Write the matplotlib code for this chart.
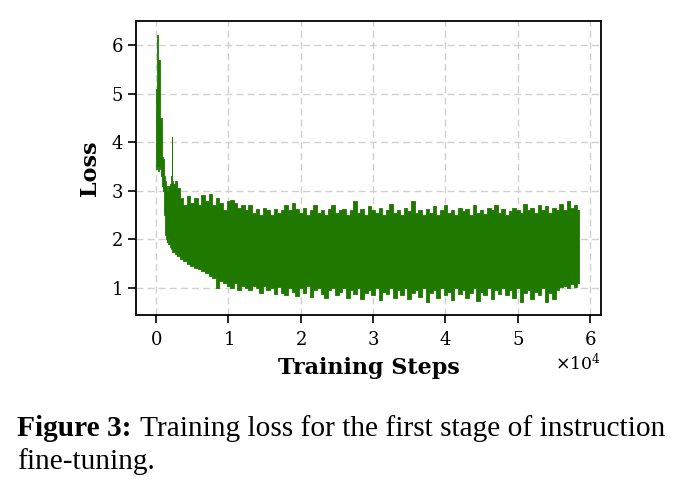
import matplotlib
matplotlib.use("Agg")
import matplotlib.pyplot as plt

# loss envelope (steps, top of band, bottom of band)
early_steps = [0, 100, 200, 300, 400, 500, 600, 700, 800, 900, 1000, 1100,
               1200, 1300, 1400, 1500, 1600, 1800, 2000, 2100, 2200, 2300,
               2500, 2750, 3000]
early_hi = [4.6, 5.1, 6.2, 5.7, 5.2, 5.7, 4.5, 4.5, 4.4, 3.7, 3.65, 3.6,
            3.3, 3.2, 3.1, 3.0, 3.0, 3.1, 3.15, 3.3, 4.1, 3.2,
            3.15, 3.2, 3.05]
early_lo = [3.5, 3.45, 3.5, 3.4, 3.4, 3.5, 3.45, 3.3, 3.2, 3.1, 3.0, 2.9,
            2.5, 2.1, 2.0, 1.95, 2.0, 1.9, 1.85, 1.8, 1.8, 1.75,
            1.75, 1.7, 1.65]

late_steps = list(range(3500, 59000, 500))
late_hi = [2.85, 2.7, 2.9, 2.75, 2.85, 2.7, 2.92, 2.8, 2.93, 2.7,
           2.85, 2.75, 2.6, 2.8, 2.82, 2.75, 2.65, 2.7, 2.6, 2.7,
           2.55, 2.62, 2.5, 2.65, 2.6, 2.5, 2.62, 2.55, 2.6, 2.7,
           2.6, 2.75, 2.62, 2.55, 2.65, 2.5, 2.6, 2.7, 2.55, 2.6,
           2.5, 2.62, 2.7, 2.55, 2.6, 2.62, 2.5, 2.6, 2.8, 2.55,
           2.62, 2.5, 2.68, 2.6, 2.55, 2.65, 2.5, 2.6, 2.72, 2.55,
           2.6, 2.5, 2.65, 2.58, 2.78, 2.55, 2.6, 2.5, 2.62, 2.55,
           2.68, 2.5, 2.6, 2.7, 2.55, 2.6, 2.5, 2.65, 2.58, 2.62,
           2.5, 2.7, 2.55, 2.6, 2.52, 2.65, 2.6, 2.7, 2.55, 2.62,
           2.5, 2.58, 2.65, 2.6, 2.55, 2.72, 2.6, 2.65, 2.55, 2.7,
           2.6, 2.68, 2.55, 2.65, 2.6, 2.72, 2.6, 2.8, 2.65, 2.7, 2.6]
late_lo = [1.6, 1.55, 1.5, 1.45, 1.42, 1.4, 1.35, 1.3, 1.25, 1.2,
           1.0, 1.15, 1.1, 1.05, 1.0, 1.1, 0.95, 1.05, 1.0, 0.95,
           1.05, 1.0, 0.9, 1.05, 0.95, 1.0, 0.88, 1.02, 0.9, 0.85,
           1.0, 0.92, 0.83, 1.0, 0.9, 1.05, 0.82, 0.95, 1.0, 0.88,
           0.8, 0.95, 1.0, 0.85, 0.92, 1.0, 0.8, 0.95, 0.88, 1.0,
           0.78, 0.9, 0.95, 0.85, 1.0, 0.75, 0.92, 0.88, 1.0, 0.8,
           0.95, 0.85, 1.0, 0.78, 0.9, 0.95, 0.82, 1.0, 0.72, 0.9,
           0.95, 0.8, 1.0, 0.85, 0.92, 0.76, 1.0, 0.88, 0.95, 0.8,
           0.9, 1.0, 0.74, 0.92, 0.85, 1.0, 0.78, 0.95, 0.88, 1.0,
           0.85, 0.95, 0.8, 1.0, 0.72, 0.9, 0.95, 0.78, 0.92, 0.85,
           1.0, 0.72, 0.9, 0.78, 0.95, 1.02, 1.05, 1.0, 1.08, 1.02, 1.1]

steps = early_steps + late_steps
hi = early_hi + late_hi
lo = early_lo + late_lo

green = "#1f7800"
serif = "Liberation Serif"

plt.rcParams["font.family"] = "DejaVu Serif"
fig = plt.figure(figsize=(6.86, 4.94), dpi=100)
ax = fig.add_axes([0.198, 0.362, 0.678, 0.595])

ax.fill_between(steps, lo, hi, step="mid", color=green, linewidth=0.6,
                edgecolor=green, zorder=3)
ax.grid(True, linestyle="--", color="#d0d0d0", linewidth=1.0, dashes=(5, 3))
ax.set_axisbelow(True)

ax.set_xlim(-2800, 61500)
ax.set_ylim(0.44, 6.49)
ax.set_yticks([1, 2, 3, 4, 5, 6])
ax.ticklabel_format(axis="x", style="sci", scilimits=(0, 0), useMathText=True)
ax.xaxis.get_offset_text().set_fontsize(12.5)
ax.tick_params(labelsize=13, width=1.2, length=5.5)
ax.tick_params(axis="x", pad=6)
for s in ax.spines.values():
    s.set_linewidth(1.3)

ax.set_xlabel("Training Steps", fontsize=16, fontweight="bold", labelpad=6)
ax.set_ylabel("Loss", fontsize=16, fontweight="bold", labelpad=8)

fig.text(0.025, 0.118, "Figure 3:", fontsize=21.2, family=serif, fontweight="bold")
fig.text(0.204, 0.118, "Training loss for the first stage of instruction",
         fontsize=21.2, family=serif)
fig.text(0.025, 0.05, "fine-tuning.", fontsize=21.2, family=serif)

fig.savefig("out.png", dpi=100)
